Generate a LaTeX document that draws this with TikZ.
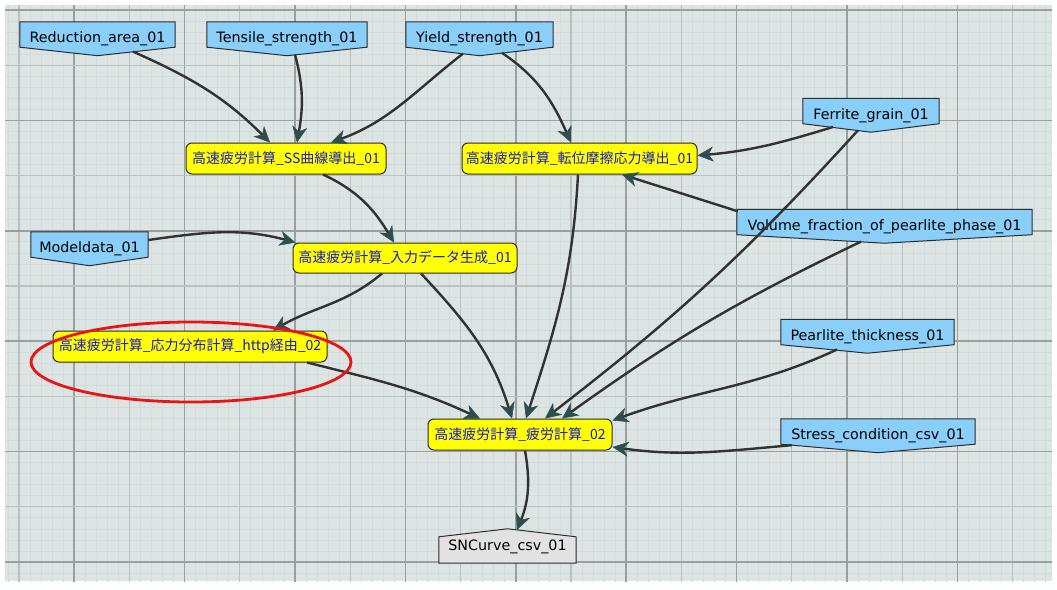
\documentclass[tikz,border=0pt]{standalone}
\usepackage{fontspec}
\setmainfont{DejaVu Sans}
\newfontfamily\jpfont{Noto Sans CJK JP}
\usetikzlibrary{arrows.meta}

\definecolor{bgc}{RGB}{220,228,228}
\definecolor{minorc}{RGB}{211,219,220}
\definecolor{majorlight}{RGB}{186,193,194}
\definecolor{majordark}{RGB}{154,160,161}
\definecolor{inblue}{RGB}{138,206,250}
\definecolor{outgray}{RGB}{226,226,226}
\definecolor{procyellow}{RGB}{255,255,0}
\definecolor{proctext}{RGB}{28,28,200}
\definecolor{nodeline}{RGB}{45,45,45}
\definecolor{edgec}{RGB}{50,50,50}
\definecolor{headc}{RGB}{44,78,78}
\definecolor{markred}{RGB}{235,20,20}

\pgfdeclarelayer{grid}
\pgfdeclarelayer{shapes}
\pgfsetlayers{grid,shapes,main}

% data source: rectangle with a downward chevron
\newcommand\inputnode[5]{%
  \node[intext, minimum width=#4pt] (#1) at (#2,-#3) {#5};
  \begin{pgfonlayer}{shapes}
    \draw[inshape] (#1.north west) -- (#1.north east) -- (#1.south east)
      -- ([yshift=-8.5pt]#1.south) -- (#1.south west) -- cycle;
  \end{pgfonlayer}}

% result: rectangle with an upward chevron
\newcommand\outputnode[5]{%
  \node[intext, minimum width=#4pt, minimum height=26pt,
        text height=4.6pt, text depth=3pt] (#1) at (#2,-#3) {#5};
  \begin{pgfonlayer}{shapes}
    \draw[outshape] (#1.south west) -- (#1.north west) -- ([yshift=8pt]#1.north)
      -- (#1.north east) -- (#1.south east) -- cycle;
  \end{pgfonlayer}}

\begin{document}
\begin{tikzpicture}[x=1pt,y=1pt,
  intext/.style={inner sep=0pt, minimum height=25pt, text=black,
    text height=18pt, text depth=2pt,
    font=\fontsize{14.3}{16}\selectfont},
  inshape/.style={draw=nodeline, line width=1pt, fill=inblue},
  outshape/.style={draw=nodeline, line width=1pt, fill=outgray},
  proc/.style={draw=nodeline, line width=1pt, fill=procyellow,
    rounded corners=6pt, minimum height=31pt, inner sep=0pt, text=proctext,
    font=\jpfont\fontsize{14}{16}\selectfont},
  edge/.style={draw=edgec, line width=2.4pt,
    -{Stealth[length=16pt,width=15pt,inset=5pt,line width=0.5pt,color=headc,fill=headc]}}
]
\useasboundingbox (0,0) rectangle (1057,-589);

% canvas and grid
\begin{pgfonlayer}{grid}
  \fill[white] (0,0) rectangle (1057,-589);
  \fill[bgc] (5,-5) rectangle (1052,-581);
  \begin{scope}
    \clip (5,-5) rectangle (1052,-581);
    \foreach \i in {-2,...,95}
      \draw[minorc, line width=0.7pt] ({19+11.04*\i},0) -- ({19+11.04*\i},-589);
    \foreach \i in {-1,...,53}
      \draw[minorc, line width=0.7pt] (0,{-10-11.04*\i}) -- (1057,{-10-11.04*\i});
    \foreach \j in {0,...,9}
      \draw[majorlight, line width=1.3pt] ({19+110.4*\j},0) -- ({19+110.4*\j},-589);
    \foreach \j in {0,...,8}
      \draw[majordark, line width=1.6pt] ({74.2+110.4*\j},0) -- ({74.2+110.4*\j},-589);
    \foreach \j in {0,...,4}
      \draw[majorlight, line width=1.3pt] (0,{-65.2-110.4*\j}) -- (1057,{-65.2-110.4*\j});
    \foreach \j in {0,...,5}
      \draw[majordark, line width=1.6pt] (0,{-10-110.4*\j}) -- (1057,{-10-110.4*\j});
  \end{scope}
\end{pgfonlayer}

% data sources
\inputnode{red}{97.5}{34.5}{155}{Reduction\_area\_01}
\inputnode{ten}{287}{34.5}{160}{Tensile\_strength\_01}
\inputnode{yld}{479.5}{34.5}{147}{Yield\_strength\_01}
\inputnode{fer}{871}{111}{136}{Ferrite\_grain\_01}
\inputnode{vol}{884.5}{222}{295}{Volume\_fraction\_of\_pearlite\_phase\_01}
\inputnode{prl}{867.5}{332}{173}{Pearlite\_thickness\_01}
\inputnode{str}{878}{431.5}{194}{Stress\_condition\_csv\_01}
\inputnode{mdl}{89.5}{244.5}{117}{Modeldata\_01}

% processes
\node[proc, minimum width=200pt] (ss) at (286,-158.5) {高速疲労計算\_SS曲線導出\_01};
\node[proc, minimum width=235pt] (dis) at (579.5,-158.5) {高速疲労計算\_転位摩擦応力導出\_01};
\node[proc, minimum width=224pt, minimum height=30pt] (inp) at (405,-258) {高速疲労計算\_入力データ生成\_01};
\node[proc, minimum width=274pt] (http) at (190,-346.5) {高速疲労計算\_応力分布計算\_http経由\_02};
\node[proc, minimum width=184pt] (fat) at (520,-434.5) {高速疲労計算\_疲労計算\_02};

% result
\outputnode{snc}{507.5}{550}{137}{SNCurve\_csv\_01}

% connectors
\draw[edge] ([shift={(35.5,-17.1)}]red.center) to[out=-24,in=135] ([xshift=-16pt]ss.north);
\draw[edge] ([shift={(8,-20.1)}]ten.center) to[out=-75,in=80] ([xshift=11pt]ss.north);
\draw[edge] ([shift={(-16.5,-19.1)}]yld.center) to[out=218,in=20] ([xshift=45pt]ss.north);
\draw[edge] ([shift={(22.5,-18.4)}]yld.center) to[out=-34,in=114] ([xshift=-8.5pt]dis.north);
\draw[edge] ([shift={(-38,-16)}]fer.center) to[out=197,in=5] ([yshift=3pt]dis.east);
\draw[edge] ([shift={(1,-2)}]vol.north west) -- ([xshift=42.5pt]dis.south);
\draw[edge] ([shift={(-13,-19.3)}]fer.center) to[bend left=5] ([xshift=25pt]fat.north);
\draw[edge] ([xshift=-1.5pt]dis.south) to[out=-93,in=72] ([xshift=6pt]fat.north);
\draw[edge] ([xshift=37pt]ss.south) to[out=-25,in=121] ([xshift=-11pt]inp.north);
\draw[edge] ([yshift=4.5pt]mdl.east) to[out=8,in=165] ([xshift=3pt]inp.north west);
\draw[edge] ([xshift=-23pt]inp.south) to[out=220,in=30] ([xshift=83pt]http.north);
\draw[edge] ([xshift=16pt]inp.south) to[out=-47,in=107] ([xshift=-8pt]fat.north);
\draw[edge] ([xshift=117pt]http.south) to[out=-14,in=155] ([xshift=-40pt]fat.north);
\draw[edge] ([shift={(-23.5,-19.6)}]vol.center) to[bend right=5] ([xshift=42pt]fat.north);
\draw[edge] ([shift={(-30.5,-17.5)}]prl.center) to[out=205,in=20] ([yshift=-2pt]fat.north east);
\draw[edge] ([shift={(11,-1)}]str.south west) to[out=185,in=-8] ([yshift=-12.5pt]fat.east);
\draw[edge] ([xshift=5pt]fat.south) to[out=-80,in=68] ([shift={(9.5,6.9)}]snc.north);

% highlight ring
\draw[markred, line width=2.8pt] (191,-362) ellipse [x radius=160, y radius=40];
\end{tikzpicture}
\end{document}
